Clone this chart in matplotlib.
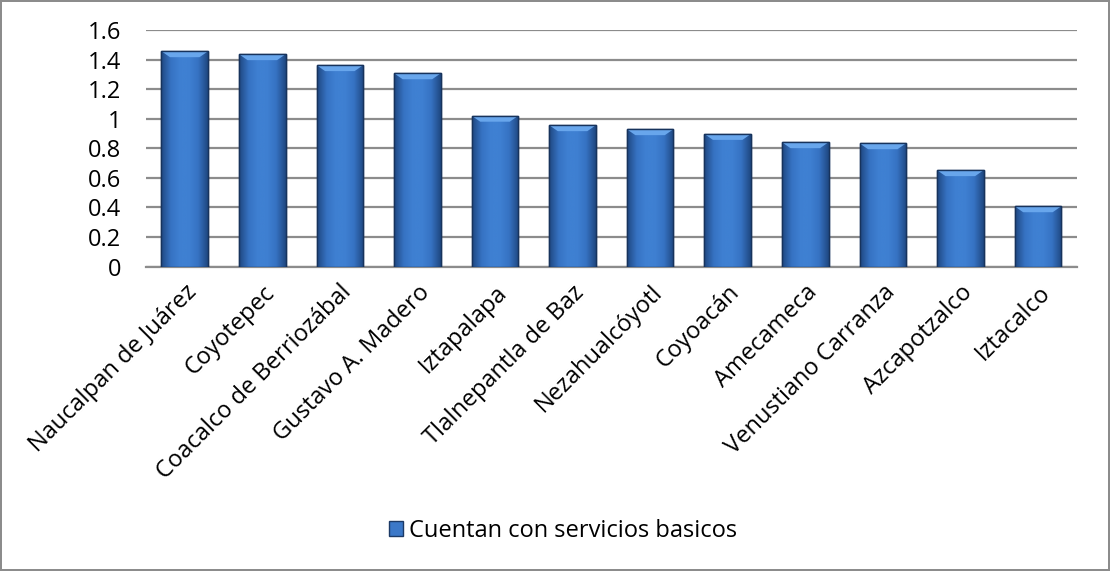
import numpy as np
import matplotlib.pyplot as plt
from matplotlib.colors import LinearSegmentedColormap
from matplotlib.patches import Rectangle

# municipios y valores
municipios = ["Naucalpan de Juárez", "Coyotepec", "Coacalco de Berriozábal",
              "Gustavo A. Madero", "Iztapalapa", "Tlalnepantla de Baz",
              "Nezahualcóyotl", "Coyoacán", "Amecameca", "Venustiano Carranza",
              "Azcapotzalco", "Iztacalco"]
servicios = [1.456, 1.436, 1.362, 1.307, 1.02, 0.956, 0.929, 0.897,
             0.841, 0.834, 0.652, 0.408]
serie = "Cuentan con servicios basicos"
yticks = [0, 0.2, 0.4, 0.6, 0.8, 1, 1.2, 1.4, 1.6]
ylabels = ["0", "0.2", "0.4", "0.6", "0.8", "1", "1.2", "1.4", "1.6"]

plt.rcParams["font.family"] = ["Open Sans", "DejaVu Sans"]
FS = 17

fig = plt.figure(figsize=(11.1, 5.71), dpi=100)
fig.patch.set_edgecolor("#8c8c8c")
fig.patch.set_linewidth(1.5)
ax = fig.add_axes([0.1315, 0.533, 0.8385, 0.4145])

x = np.arange(len(municipios))
bars = ax.bar(x, servicios, width=0.6, color="#3b78c8",
              edgecolor="#1c3a66", linewidth=1.0, zorder=3)

# degradado horizontal tipo bisel en cada barra
cmap = LinearSegmentedColormap.from_list(
    "bisel", ["#1f4882", "#3672c2", "#3f80d2", "#3f80d2", "#3672c2", "#1f4882"])
grad = np.linspace(0, 1, 64).reshape(1, -1)
for b in bars:
    x0, w, h = b.get_x(), b.get_width(), b.get_height()
    im = ax.imshow(grad, cmap=cmap, aspect="auto", zorder=3.5,
                   extent=(x0, x0 + w, 0, h), interpolation="bicubic")
    im.set_clip_path(b)
    cap, inset = 0.04, 0.11
    top = ax.fill([x0, x0 + w, x0 + w - inset, x0 + inset],
                  [h, h, h - cap, h - cap], color="#68a6ec",
                  zorder=3.6, lw=0)[0]
    top.set_clip_path(b)
    ax.add_patch(Rectangle((x0, 0), w, h, fill=False,
                           edgecolor="#17335c", lw=1.0, zorder=3.8))

ax.set_xlim(-0.5, len(municipios) - 0.5)
ax.set_ylim(0, 1.6)
ax.set_yticks(yticks)
ax.set_yticklabels(ylabels, fontsize=FS)
ax.set_xticks(x)
ax.set_xticklabels(municipios, rotation=45, ha="right",
                   rotation_mode="anchor", fontsize=FS)
ax.tick_params(axis="both", length=0)
ax.tick_params(axis="y", pad=18)
ax.tick_params(axis="x", pad=10)
ax.grid(axis="y", color="#8c8c8c", linewidth=1.6, zorder=0)
for s in ["top", "right", "left"]:
    ax.spines[s].set_visible(False)
ax.spines["bottom"].set_color("#8c8c8c")
ax.spines["bottom"].set_linewidth(1.6)

# leyenda
handle = Rectangle((0, 0), 1, 1, facecolor="#3b78c8", edgecolor="#1c3a66")
fig.legend([handle], [serie], loc="center", bbox_to_anchor=(0.507, 0.07),
           frameon=False, fontsize=FS, handlelength=0.6,
           handleheight=0.6, handletextpad=0.25)

fig.savefig("out.png", dpi=100)
